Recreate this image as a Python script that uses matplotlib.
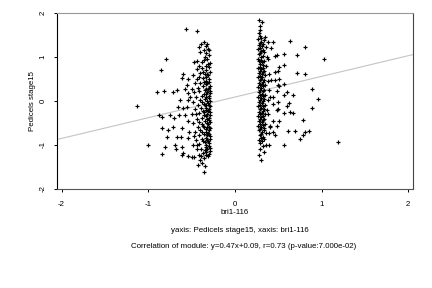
import matplotlib
matplotlib.use("Agg")
import matplotlib.pyplot as plt
import numpy as np

plt.rcParams['font.family'] = ['Liberation Sans', 'DejaVu Sans']

# ---- data ----
left_outlier_x = [-1.135, -1.0, -0.896, -0.815, -0.80, -0.85, -0.873, -0.838, -0.846, -0.788,
                  -0.812, -0.838, -0.769, -0.712, -0.673, -0.75, -0.70, -0.712, -0.673, -0.692,
                  -0.685, -0.615, -0.604, -0.538, -0.635, -0.654, -0.604, -0.642, -0.615, -0.623,
                  -0.615, -0.604, -0.577, -0.558, -0.565, -0.435, -0.538, -0.546, -0.558, -0.577,
                  -0.538, -0.527, -0.546, -0.538, -0.615]
left_outlier_y = [-0.114, -1.0, 0.212, 0.227, 0.947, 0.705, -0.318, -0.371, -0.621, -0.826,
                  -1.038, -1.205, -0.659, 0.212, 0.25, -0.318, -0.394, -0.583, -0.81, -1.0,
                  -1.09, 0.53, 0.614, 0.492, 0.023, -0.129, -0.167, -0.318, -0.621, -0.81,
                  -1.038, -1.19, 0.265, 0.364, 1.63, 1.59, 0.174, 0.023, -0.129, -0.318,
                  -0.447, -0.697, -0.848, -1.25, -1.227]

left_band_x = [-0.36, -0.39, -0.41, -0.33, -0.31, -0.40, -0.34, -0.30, -0.29, -0.31, -0.36, -0.44,
               -0.47, -0.42, -0.38, -0.33, -0.35, -0.40, -0.31, -0.37, -0.44, -0.42, -0.30, -0.34,
               -0.40, -0.46, -0.33, -0.29, -0.37, -0.43, -0.50, -0.31, -0.35, -0.41, -0.47, -0.29,
               -0.33, -0.38, -0.45, -0.52, -0.30, -0.35, -0.40, -0.48, -0.31, -0.36, -0.43, -0.29,
               -0.34, -0.39, -0.46, -0.31, -0.36, -0.42, -0.50, -0.29, -0.33, -0.38, -0.44, -0.30,
               -0.35, -0.41, -0.48, -0.31, -0.37, -0.43, -0.29, -0.34, -0.40, -0.46, -0.31, -0.36,
               -0.42, -0.29, -0.33, -0.38, -0.45, -0.31, -0.35, -0.41, -0.49, -0.30, -0.34, -0.39,
               -0.44, -0.29, -0.33, -0.37, -0.42, -0.31, -0.36, -0.40, -0.38, -0.43, -0.35, -0.36,
               -0.32, -0.30, -0.35, -0.32, -0.30, -0.34, -0.29, -0.32, -0.37, -0.30, -0.32, -0.36,
               -0.30, -0.33, -0.29, -0.32, -0.36, -0.30, -0.33, -0.29, -0.32, -0.38, -0.30, -0.33,
               -0.30, -0.33, -0.37, -0.29, -0.32, -0.36, -0.30, -0.32, -0.29, -0.32, -0.38, -0.30,
               -0.32, -0.30, -0.33, -0.38, -0.30, -0.32, -0.29, -0.32, -0.30, -0.33, -0.29, -0.32,
               -0.30, -0.33, -0.39, -0.35, -0.37, -0.36, -0.35, -0.34, -0.38, -0.36, -0.44, -0.48,
               -0.45, -0.47, -0.44, -0.50, -0.47]
left_band_y = [1.35, 1.29, 1.22, 1.24, 1.18, 1.12, 1.10, 1.16, 0.87, 0.84, 0.93, 0.90,
               0.88, 0.80, 0.76, 0.70, 0.62, 0.64, 0.58, 0.52, 0.50, 0.55, 0.50, 0.46,
               0.42, 0.40, 0.38, 0.35, 0.33, 0.30, 0.28, 0.27, 0.24, 0.22, 0.20, 0.18,
               0.15, 0.12, 0.10, 0.08, 0.06, 0.04, 0.02, -0.02, -0.04, -0.07, -0.08, -0.12,
               -0.15, -0.17, -0.19, -0.22, -0.25, -0.27, -0.30, -0.32, -0.35, -0.38, -0.40, -0.43,
               -0.46, -0.48, -0.50, -0.53, -0.56, -0.58, -0.62, -0.64, -0.67, -0.70, -0.72, -0.75,
               -0.77, -0.80, -0.83, -0.86, -0.88, -0.91, -0.94, -0.97, -0.99, -1.02, -1.05, -1.08,
               -1.10, -1.13, -1.16, -1.19, -1.22, -1.26, -1.30, -1.34, -1.42, -1.45, -1.47, -1.62,
               1.30, 1.05, 1.00, 0.95, 0.78, 0.80, 0.66, 0.62, 0.66, 0.44, 0.40, 0.43,
               0.30, 0.28, 0.22, 0.20, 0.17, 0.12, 0.09, 0.00, -0.01, -0.03, -0.08, -0.10,
               -0.18, -0.20, -0.22, -0.26, -0.29, -0.31, -0.38, -0.41, -0.48, -0.50, -0.52, -0.58,
               -0.60, -0.67, -0.70, -0.71, -0.76, -0.78, -0.86, -0.88, -0.96, -0.99, -1.06, -1.09,
               -1.20, -1.22, -1.25, -1.12, -0.90, -0.60, -0.10, 0.55, 0.88, 1.15, 0.72, 0.60,
               -0.30, -0.80, -1.00, -1.27, -1.27]

right_band_x = [0.28, 0.31, 0.29, 0.29, 0.35, 0.27, 0.30, 0.33, 0.28, 0.31, 0.36, 0.27,
                0.30, 0.34, 0.28, 0.32, 0.37, 0.27, 0.30, 0.34, 0.29, 0.32, 0.36, 0.27,
                0.30, 0.33, 0.28, 0.31, 0.35, 0.27, 0.30, 0.33, 0.38, 0.28, 0.31, 0.35,
                0.27, 0.30, 0.34, 0.39, 0.28, 0.31, 0.35, 0.27, 0.30, 0.33, 0.38, 0.28,
                0.31, 0.35, 0.27, 0.30, 0.33, 0.37, 0.28, 0.31, 0.35, 0.27, 0.30, 0.33,
                0.28, 0.31, 0.35, 0.27, 0.30, 0.33, 0.28, 0.31, 0.36, 0.29, 0.32, 0.28,
                0.31, 0.29, 0.32, 0.36, 0.33, 0.28, 0.30, 0.29,
                0.29, 0.28, 0.30, 0.29, 0.32, 0.29, 0.32, 0.29, 0.30, 0.28, 0.31, 0.29,
                0.32, 0.29, 0.32, 0.29, 0.31, 0.29, 0.32, 0.29, 0.32, 0.29, 0.32, 0.29,
                0.32, 0.29, 0.32, 0.29, 0.32, 0.29, 0.32, 0.29, 0.32, 0.29, 0.32, 0.29,
                0.32, 0.29, 0.33, 0.30, 0.30, 0.33, 0.40, 0.38, 0.40, 0.39, 0.38, 0.41]
right_band_y = [1.84, 1.80, 1.61, 1.48, 1.45, 1.40, 1.35, 1.38, 1.28, 1.25, 1.22, 1.18,
                1.14, 1.12, 1.06, 1.03, 1.00, 0.96, 0.93, 0.90, 0.85, 0.82, 0.79, 0.75,
                0.72, 0.69, 0.64, 0.61, 0.58, 0.54, 0.51, 0.48, 0.45, 0.42, 0.39, 0.36,
                0.32, 0.29, 0.26, 0.24, 0.20, 0.17, 0.14, 0.10, 0.07, 0.04, 0.02, -0.02,
                -0.05, -0.08, -0.12, -0.15, -0.18, -0.21, -0.24, -0.27, -0.30, -0.34, -0.37, -0.40,
                -0.45, -0.48, -0.52, -0.56, -0.59, -0.62, -0.67, -0.70, -0.73, -0.78, -0.82, -0.88,
                -0.92, -0.96, -1.02, -1.00, -1.15, -1.22, -1.33, -1.08,
                1.70, 1.55, 1.44, 1.32, 1.30, 1.20, 1.16, 1.10, 1.00, 0.90, 0.88, 0.78,
                0.76, 0.68, 0.66, 0.57, 0.55, 0.47, 0.44, 0.36, 0.33, 0.25, 0.22, 0.13,
                0.11, 0.03, 0.00, -0.08, -0.11, -0.19, -0.22, -0.30, -0.33, -0.41, -0.44, -0.52,
                -0.55, -0.63, -0.66, -0.74, -0.84, -0.86, -0.57, -0.30, 0.10, 0.62, 0.95, 1.20]

right_outlier_x = [0.63, 0.81, 1.03, 0.44, 0.38, 0.57, 0.71, 0.49, 0.46, 0.56, 0.51, 0.50,
                   0.46, 0.71, 0.81, 0.51, 0.46, 0.42, 0.56, 0.50, 0.51, 0.48, 0.60, 0.67,
                   0.89, 0.96, 0.44, 0.56, 0.50, 0.44, 0.62, 0.60, 0.63, 0.67, 0.57, 0.50,
                   0.48, 0.89, 0.78, 0.44, 0.51, 0.48, 0.40, 0.61, 0.69, 0.81, 0.85, 0.78,
                   0.75, 1.19, 0.39, 0.46, 0.44, 0.56, 0.39]
right_outlier_y = [1.36, 1.23, 0.95, 1.33, 1.35, 1.07, 1.05, 1.05, 1.03, 0.82, 0.78, 0.68,
                   0.67, 0.64, 0.61, 0.49, 0.48, 0.48, 0.39, 0.36, 0.35, 0.23, 0.21, 0.14,
                   0.27, 0.04, 0.10, 0.14, -0.02, -0.06, -0.05, -0.11, -0.24, -0.27, -0.28, -0.19,
                   -0.20, -0.15, -0.43, -0.45, -0.45, -0.57, -0.58, -0.68, -0.68, -0.70, -0.68, -0.77,
                   -0.86, -0.94, -0.73, -0.77, -0.71, -1.00, -1.00]

slope = 0.47
intercept = 0.09
x_ticks = [-2, -1, 0, 1, 2]
y_ticks = [-2, -1, 0, 1, 2]

# ---- plot ----
fig = plt.figure(figsize=(4.32, 2.88), dpi=100)
ax = fig.add_axes([0.1326, 0.3438, 0.8227, 0.6111])

xl = (-2.05, 2.05)
line_x = np.array(xl)
ax.plot(line_x, slope * line_x + intercept, color='#c4c4c4', lw=0.8, zorder=1)

all_x = left_outlier_x + left_band_x + right_band_x + right_outlier_x
all_y = left_outlier_y + left_band_y + right_band_y + right_outlier_y
ax.plot(all_x, all_y, linestyle='none', marker='+', color='black',
        markersize=3.5, markeredgewidth=0.85, zorder=2)

ax.set_xlim(*xl)
ax.set_ylim(-2.0, 2.0)
ax.set_xticks(x_ticks)
ax.set_yticks(y_ticks)
ax.set_xticklabels([str(t) for t in x_ticks])
ax.set_yticklabels([str(t) for t in y_ticks], rotation=90, va='center')
ax.tick_params(axis='both', direction='out', length=2.5, width=0.7, labelsize=5.7, color='black')
ax.tick_params(axis='x', pad=6.5)
ax.tick_params(axis='y', pad=5)

for side, col in [('left', '#000000'), ('bottom', '#555555'), ('right', '#444444'), ('top', '#999999')]:
    ax.spines[side].set_color(col)
    ax.spines[side].set_linewidth(0.8)

fs = 5.7
fig.text(235 / 432, 1 - 213 / 288, 'bri1-116', ha='center', va='center', fontsize=fs)
fig.text(33 / 432, 1 - 101 / 288, 'Pedicels stage15', ha='center', va='center', rotation=90, fontsize=fs)
fig.text(240 / 432, 1 - 231 / 288, 'yaxis: Pedicels stage15, xaxis: bri1-116', ha='center', va='center', fontsize=fs)
fig.text(244 / 432, 1 - 247 / 288, 'Correlation of module: y=0.47x+0.09, r=0.73 (p-value:7.000e-02)',
         ha='center', va='center', fontsize=fs)

fig.savefig('out.png', dpi=100)
